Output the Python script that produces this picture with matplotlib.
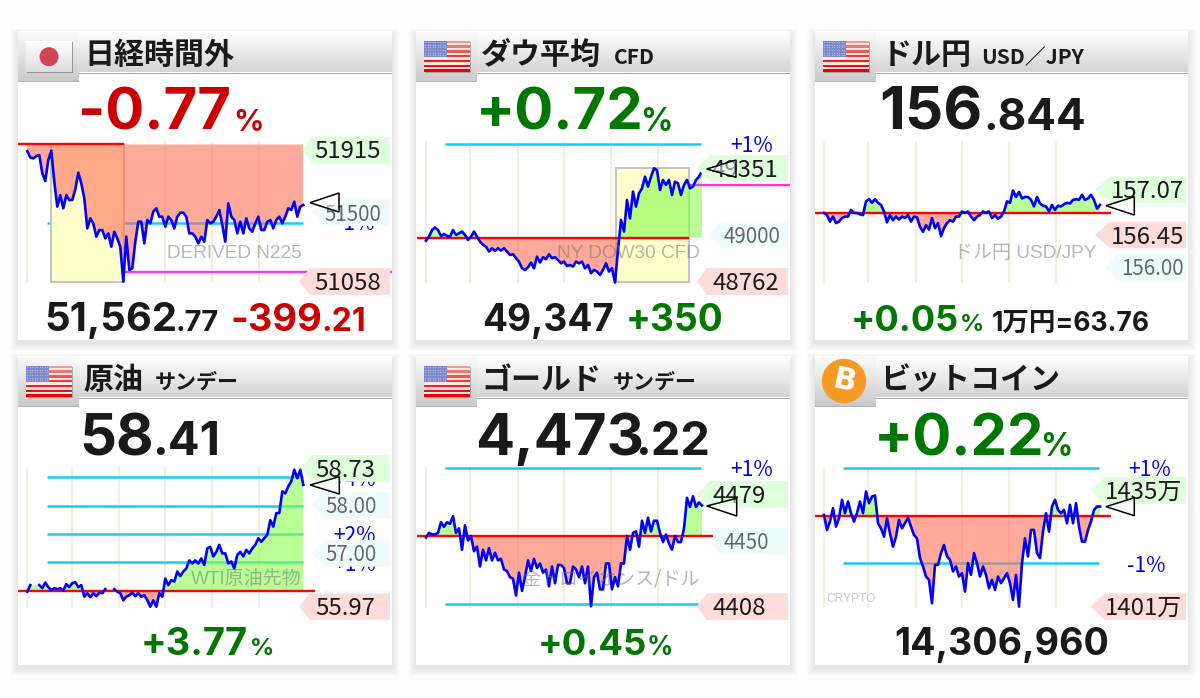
import numpy as np
import pandas as pd
import matplotlib
matplotlib.use("Agg")
import matplotlib.pyplot as plt
from matplotlib.patches import Rectangle, Polygon, Circle

W, H = 1200, 698
plt.rcParams['font.family'] = ['Noto Sans CJK JP', 'DejaVu Sans']

# ------------------ data (prices) ------------------
n225_values = [51918,51876,51870,51885,51892,51771,51721,51859,51920,51716,51552,51628,51541,51628,51596,51596,51666,51776,51705,51607,
               51409,51475,51442,51354,51398,51398,51343,51376,51288,51387,51343,51288,51058,51354,51135,51146,51321,51453,51453,51310,
               51464,51442,51519,51541,51486,51486,51420,51486,51464,51409,51486,51512,51512,51486,51376,51376,51354,51310,51354,51321,
               51464,51442,51453,51486,51530,51431,51321,51574,51486,51464,51376,51453,51376,51475,51409,51387,51442,51486,51398,51398,
               51453,51464,51409,51464,51486,51442,51486,51541,51530,51585,51486,51552,51563]
n225_base = 51962
n225_guides = [51442]

dow_values = [48981,49002,49037,49050,49037,49006,49016,49006,49002,49037,49011,49020,49029,49011,48985,49002,49029,49002,48976,48959,
              48950,48924,48941,48927,48941,48929,48941,48924,48906,48910,48889,48871,48836,48827,48841,48866,48836,48897,48866,48894,
              48883,48910,48889,48894,48880,48862,48871,48848,48853,48845,48871,48862,48871,48836,48853,48810,48827,48819,48801,48827,
              48862,48819,48836,48761,48932,49090,49029,49195,49098,49239,49160,49230,49256,49317,49265,49317,49361,49352,49247,49300,
              49274,49300,49221,49291,49282,49221,49274,49300,49256,49265,49300,49317,49349]
dow_base = 48997
dow_guides = [49487]

usd_values = [156.77,156.74,156.65,156.72,156.63,156.65,156.70,156.72,156.72,156.81,156.77,156.77,156.75,156.74,156.93,156.96,156.91,156.96,156.91,156.88,
              156.79,156.64,156.74,156.67,156.72,156.68,156.72,156.70,156.74,156.65,156.72,156.71,156.58,156.51,156.60,156.54,156.70,156.56,156.63,156.45,
              156.56,156.63,156.67,156.65,156.72,156.72,156.79,156.77,156.79,156.72,156.67,156.72,156.74,156.79,156.77,156.79,156.70,156.74,156.69,156.72,
              156.79,156.93,156.91,157.08,156.99,157.06,156.97,156.99,156.99,156.95,156.86,156.99,156.90,156.87,156.86,156.79,156.88,156.81,156.87,156.86,
              156.89,156.91,156.90,156.95,156.96,156.95,157.02,156.95,156.97,157.02,156.95,156.83,156.88]
usd_base = 156.77
usd_guides = []

nan = float('nan')
oil_values = [56.27,56.40,nan,nan,56.40,56.34,56.45,56.36,56.30,56.34,56.32,56.34,56.29,56.42,56.36,56.44,56.46,56.36,56.40,56.17,
              56.24,56.16,56.24,56.18,56.25,56.24,56.32,nan,nan,56.32,56.27,56.24,56.10,56.17,56.20,56.25,56.18,56.24,56.17,56.20,
              56.10,55.97,56.10,55.97,56.24,56.17,56.53,56.40,56.50,56.47,56.67,56.58,56.67,56.73,56.89,56.83,56.89,56.83,56.93,56.80,
              57.13,57.16,56.97,57.06,57.20,57.03,57.03,56.83,56.87,56.73,57.00,57.06,56.97,57.10,57.03,57.13,57.20,57.33,57.26,57.33,
              57.40,57.69,57.56,57.83,57.83,58.26,58.22,58.36,58.46,58.69,58.52,58.69,58.39]
oil_base = 56.29
oil_guides = [56.853,57.416,57.979,58.542]

gold_values = [4452,4455,4454,4454,4455,4462,4459,4462,4461,4466,4455,4458,4444,4460,4450,4453,4443,4446,4433,4444,
               4437,4445,4437,4442,4437,4438,4431,4430,4426,4425,4414,4429,4417,4426,4437,4430,4438,4432,4435,4429,
               4431,4420,4433,4422,4434,4434,4432,4422,4422,4433,4431,4426,4433,4422,4433,4407,4426,4429,4418,4418,
               4435,4435,4418,4426,4420,4435,4435,4453,4444,4455,4456,4446,4463,4455,4465,4456,4463,4463,4455,4449,
               4454,4448,4444,4453,4449,4449,4458,4478,4472,4479,4472,4475,4473]
gold_base = 4453
gold_guides = [4497.5, 4408.5]

btc_values = [1427.8,1423.3,1425.8,1429.8,1424.3,1426.8,1432.3,1428.3,1431.8,1428.3,1425.8,1428.3,1431.8,1428.3,1434.8,1431.3,1433.3,1433.6,1425.3,1423.8,
              1421.3,1426.8,1422.3,1418.3,1421.3,1426.3,1423.8,1425.3,1427.0,1424.3,1421.8,1420.8,1414.9,1412.4,1409.4,1408.4,1401.4,1412.9,1412.9,1416.4,
              1418.8,1415.4,1414.4,1410.9,1412.4,1409.4,1410.4,1404.9,1413.4,1409.9,1416.4,1413.4,1409.4,1412.4,1409.9,1405.9,1408.4,1405.4,1409.4,1407.4,
              1408.9,1410.4,1407.4,1402.4,1409.9,1400.4,1413.4,1420.8,1415.4,1423.3,1423.3,1416.4,1414.9,1422.8,1428.3,1422.8,1430.3,1432.3,1429.3,1428.3,
              1429.3,1425.3,1430.8,1425.3,1431.3,1424.3,1419.8,1419.8,1423.3,1425.8,1429.3,1430.3,1430.3]
btc_base = 1427.6
btc_guides = [1441.9, 1413.3]

session_marks = [0, 14.8, 30.5, 46, 61.6, 77.2]

RED, GRN, BLK = '#cc0000', '#007700', '#1a1a1a'

# ------------------ layout ------------------
CARD_X = [(18, 392), (416, 790), (815, 1188)]
CHART_X = [(27.3, 303.3), (426, 702), (824, 1100)]
ROW_DY = [0, 325]
NUM_FONT = ['Inter', 'Noto Sans CJK JP', 'DejaVu Sans']

fig = plt.figure(figsize=(W / 100, H / 100), dpi=100, facecolor='#fefefe')


def overlay(z):
    a = fig.add_axes([0, 0, 1, 1], zorder=z)
    a.set_xlim(0, W)
    a.set_ylim(H, 0)
    a.axis('off')
    a.set_autoscale_on(False)
    return a


bg = overlay(0)
fg = overlay(2)


def pt(px):
    return px * 0.72


def vgrad(a, x0, x1, y0, y1, c0, c1, z=1):
    c0 = np.array(matplotlib.colors.to_rgb(c0))
    c1 = np.array(matplotlib.colors.to_rgb(c1))
    t = np.linspace(0, 1, 64)[:, None, None]
    img = c0[None, None, :] * (1 - t) + c1[None, None, :] * t
    a.imshow(img, extent=(x0, x1, y1, y0), aspect='auto', zorder=z, interpolation='bilinear')
    a.set_xlim(0, W)
    a.set_ylim(H, 0)


def card(col, row):
    x0, x1 = CARD_X[col]
    dy = ROW_DY[row]
    y0, y1 = 32 + dy, 340 + dy
    for i in range(8, 0, -1):
        bg.add_patch(Rectangle((x0 - i, y0 - i * 0.8 + 3), x1 - x0 + 2 * i, y1 - y0 + 1.8 * i,
                               fc='black', ec='none', alpha=0.010, zorder=0.5))
    bg.add_patch(Rectangle((x0, y0), x1 - x0, y1 - y0, fc='white', ec='none', zorder=0.8))
    vgrad(bg, x0, x1, y0, 72.5 + dy, '#ffffff', '#d4d4d4')
    bg.add_patch(Rectangle((x0, 72.5 + dy), x1 - x0, 1.3, fc='#a8a8a8', ec='none', zorder=1.5))
    vgrad(bg, x0, x0 + 61, y0, 82 + dy, '#fafafa', '#c8c8c8', z=1.6)
    bg.add_patch(Rectangle((x0, 81 + dy), 61, 1.2, fc='#b5b5b5', ec='none', zorder=1.7))


def us_flag(col, row):
    x0 = CARD_X[col][0] + 7.5
    y0 = 40.7 + ROW_DY[row]
    w, h = 46, 31
    bg.add_patch(Rectangle((x0 + 1, y0 + 1.5), w, h, fc='#777777', ec='none', alpha=0.5, zorder=2))
    for i in range(13):
        f = i / 12
        if i % 2 == 0:
            c = (0.93 + 0.02 * f, 0.62 * (1 - f) ** 1.5, 0.58 * (1 - f) ** 1.5)
        else:
            c = (1, 0.90, 0.88)
        bg.add_patch(Rectangle((x0, y0 + i * h / 13), w, h / 13 + 0.1, fc=c, ec='none', zorder=2.1))
    bg.add_patch(Rectangle((x0, y0), 23, 16, fc='#7c88cc', ec='none', zorder=2.2))
    gx, gy = np.meshgrid(np.linspace(x0 + 1.5, x0 + 21.5, 9), np.linspace(y0 + 1.5, y0 + 14.5, 6))
    bg.scatter(gx.ravel(), gy.ravel(), s=1.0, c='#aeb5e4', linewidths=0, zorder=2.3)


def jp_flag(col, row):
    x0 = CARD_X[col][0] + 8
    y0 = 40.7 + ROW_DY[row]
    bg.add_patch(Rectangle((x0 + 0.5, y0 + 1.5), 46, 31, fc='#666666', ec='none', alpha=0.6, zorder=2))
    vgrad(bg, x0, x0 + 46, y0, y0 + 31, '#ffffff', '#dcdcdc', z=2.1)
    bg.add_patch(Circle((x0 + 23, y0 + 16), 9.5, fc='#cf4458', ec='none', zorder=2.3))


def btc_icon(col, row):
    bg.add_patch(Circle((844, 381), 21.5, fc='#f59a23', ec='#f0a030', zorder=2.3))
    bg.text(844, 381.5, 'B', color='white', fontsize=pt(30), fontweight='bold', ha='center', va='center',
            rotation=-12, family='DejaVu Sans', zorder=2.4)


def chart(col, row, values, base, ytop, ybot, guides, guide_px, red_px, yellow=None, magenta=None):
    x0, x1 = CHART_X[col]
    dy = ROW_DY[row]
    y0, y1 = 141.7 + dy, 283.3 + dy
    ax = fig.add_axes([x0 / W, 1 - y1 / H, (x1 - x0) / W, (y1 - y0) / H], zorder=1)
    ax.patch.set_visible(False)
    for s in ax.spines.values():
        s.set_visible(False)
    ax.set_xticks([])
    ax.set_yticks([])
    n = len(values)
    ax.set_xlim(0, n - 1)
    ax.set_ylim(ybot, ytop)
    idx = lambda px: (px - x0) * (n - 1) / (x1 - x0)
    xs = np.arange(n)
    vals = np.array(values, dtype=float)
    filled = pd.Series(vals).interpolate().values
    ax.vlines(session_marks, ybot, ytop, color='#f2eee2', lw=1.6, zorder=2, clip_on=False)
    for g in guides:
        ax.plot([idx(guide_px[0]), idx(guide_px[1])], [g, g], color='#14ccff', lw=1.8, zorder=3, clip_on=False,
                solid_capstyle='butt')
    if yellow:
        ax.add_patch(Rectangle((idx(yellow[0]), yellow[3]), idx(yellow[1]) - idx(yellow[0]), yellow[2] - yellow[3],
                               fc='#ffffcc', ec='#c4c4c4', lw=1.4, zorder=3.5))
    ax.fill_between(xs, filled, base, where=filled >= base, interpolate=True, fc=(138 / 255, 1, 80 / 255), alpha=0.6,
                    lw=0, zorder=4)
    ax.fill_between(xs, filled, base, where=filled <= base, interpolate=True, fc=(1, 113 / 255, 88 / 255), alpha=0.6,
                    lw=0, zorder=4)
    ax.plot(xs, vals, color='#0000ff', lw=1.9, zorder=6, clip_on=False, solid_joinstyle='round')
    ax.plot([idx(red_px[0]), idx(red_px[1])], [base, base], color='#ff0000', lw=1.7, zorder=5, clip_on=False,
            solid_capstyle='butt')
    if magenta:
        ax.plot([idx(magenta[1]), idx(magenta[2])], [magenta[0], magenta[0]], color='#ff33ee', lw=1.7, zorder=5,
                clip_on=False, solid_capstyle='butt')
    return ax


def tag(kind, tip, left, right, y0, y1, label=None, tx=None):
    fc = {'g': '#dfffdc', 'r': '#ffdcd9', 'c': '#edfcfd'}[kind]
    fg.add_patch(Polygon([(tip, (y0 + y1) / 2), (left, y0), (right, y0), (right, y1), (left, y1)],
                         closed=True, fc=fc, ec='none', zorder=2))
    if label:
        fg.text(tx, (y0 + y1) / 2 - 0.5, label, fontsize=pt(20.5 if kind == 'c' else 24), ha='right',
                va='center_baseline', color='#666666' if kind == 'c' else '#1a1a1a', zorder=3)


def pct(cx, cy, s):
    fg.text(cx, cy, s, fontsize=pt(21), color='#0000ee', ha='center', va='center_baseline', zorder=1)


def tri(tip_x, tip_y, bx, by0, by1):
    fg.add_patch(Polygon([(tip_x, tip_y), (bx, by0), (bx, by1)], closed=True, fc=(1, 1, 1, 0.5), ec='black', lw=1.1,
                         zorder=5))


def mark(s, right, cy, size=19, family='Liberation Sans'):
    fg.text(right, cy, s, fontsize=pt(size), color='#707070', alpha=0.5, ha='right',
            va='center_baseline', family=[family, 'Noto Sans CJK JP'], zorder=4)


def txt(x, y, s, size, color=BLK, weight='bold', family=None):
    fg.text(x, y, s, fontsize=pt(size), color=color, fontweight=weight, ha='left', va='baseline', zorder=6,
            family=family or plt.rcParams['font.family'])


def num(x, y, s, size, color=BLK):
    txt(x, y, s, size, color, family=NUM_FONT)


# ------------------ cards ------------------
for r in range(2):
    for c in range(3):
        card(c, r)
jp_flag(0, 0)
us_flag(1, 0)
us_flag(2, 0)
us_flag(0, 1)
us_flag(1, 1)
btc_icon(2, 1)

# ------------------ charts ------------------
chart(0, 0, n225_values, n225_base, 51980, 51047, n225_guides, (46.7, 303), (18, 124),
      yellow=(50.7, 124, 51962, 51058), magenta=(51120, 124, 392))
chart(1, 0, dow_values, dow_base, 49501, 48757, dow_guides, (445, 701), (416.5, 688.5),
      yellow=(616, 688.5, 49364, 48766), magenta=(49273, 688.5, 790))
chart(2, 0, usd_values, usd_base, 157.752, 155.80, usd_guides, (843, 1099), (815, 1110.7))
chart(0, 1, oil_values, oil_base, 58.75, 55.94, oil_guides, (46.7, 303), (18, 315))
chart(1, 1, gold_values, gold_base, 4498.4, 4405.6, gold_guides, (445, 701), (416.5, 713))
chart(2, 1, btc_values, btc_base, 1442.2, 1399.9, btc_guides, (843, 1099), (815, 1110.7))

# ------------------ right-hand tags, guide labels, pointers ------------------
pct(355, 222, '-1%')
tag('g', 302, 312, 390, 136.7, 163.3, '51915', 381)
tag('c', 312, 325, 390, 199.3, 226, '51500', 381)
tag('r', 299, 310, 390, 268, 295, '51058', 381)
tri(310, 202.7, 339, 193, 212)
mark('DERIVED N225', 302, 251.7)

pct(752, 144, '+1%')
tag('g', 696.7, 710, 788, 155, 181.7, '49351', 778)
tag('c', 710, 720, 788, 221.7, 247.7, '49000', 780)
tag('r', 696.7, 707, 788, 268, 295, '48762', 779)
tri(706.7, 169, 736, 160, 177.3)
mark('NY DOW30 CFD', 700, 251.7)

tag('c', 1106, 1116, 1186, 181.7, 208)
tag('g', 1095, 1110, 1186, 176.7, 203, '157.07', 1184)
tag('r', 1095, 1110, 1186, 221.7, 248.3, '156.45', 1184)
tag('c', 1106.7, 1116.7, 1186, 254, 280.7, '156.00', 1184)
tri(1106, 205.7, 1134.3, 196.7, 215)
mark('ドル円 USD/JPY', 1097, 252)

pct(355, 477, '+4%')
pct(354, 533, '+2%')
pct(355, 562.7, '+1%')
tag('g', 301.7, 312, 390, 455, 481.7, '58.73', 375)
tag('c', 311.7, 325, 390, 491.7, 518.3, '58.00', 377)
tag('c', 311.7, 325, 390, 540, 566.7, '57.00', 377)
tag('c', 311.7, 325, 390, 590.7, 617)
tag('r', 299, 310, 390, 593.3, 620, '55.97', 375)
tri(310, 485, 339.3, 476.7, 494)
mark('WTI原油先物', 302, 576.7)

pct(752, 468, '+1%')
tag('g', 696.7, 710, 788, 481, 507.7, '4479', 766)
tag('c', 710, 720, 788, 527.7, 554, '4450', 769)
tag('r', 696.7, 707, 788, 593.3, 620, '4408', 766)
tri(706.7, 506, 736.7, 498.3, 516)
mark('金トロイオンス/ドル', 700, 576.7, family='Noto Sans CJK JP')

pct(1150, 468, '+1%')
pct(1146, 564, '-1%')
tag('g', 1090.7, 1105, 1186, 476.7, 504, '1435万', 1182)
tag('r', 1090.7, 1105, 1186, 593.3, 620, '1401万', 1182)
tri(1106, 506.7, 1134.3, 497.7, 515.7)
fg.text(826, 598, 'CRYPTO', fontsize=pt(12), color='#cccccc', ha='left', va='center_baseline',
        family=['Liberation Sans'], zorder=4)

# ------------------ titles ------------------
txt(84, 64, '日経時間外', 30)
txt(481, 64, 'ダウ平均', 30)
txt(614, 64, 'CFD', 21)
txt(882, 64, 'ドル円', 30)
txt(981, 64, 'USD／JPY', 21)
txt(83, 389, '原油', 30)
txt(155, 389, 'サンデー', 21)
txt(481, 389, 'ゴールド', 30)
txt(613, 389, 'サンデー', 21)
txt(880, 389, 'ビットコイン', 30)

# ------------------ headline numbers ------------------
BIG, MID = 58, 38
num(78, 130, '-0.77', BIG, RED)
num(233, 131, '%', 30, RED)
num(476, 130, '+0.72', BIG, GRN)
num(640, 131, '%', 32, GRN)
num(879, 130, '156', 60)
num(983, 130, '.844', 44)
num(79, 455, '58', BIG)
num(152, 455, '.41', 47)
num(475, 455, '4,473', BIG)
num(635, 455, '.22', 47)
num(874, 455, '+0.22', BIG, GRN)
num(1040, 456, '%', 32, GRN)

num(44, 331, '51,562', 40)
num(176, 331, '.77', 29)
num(230, 331, '-399', MID, RED)
num(321, 331, '.21', 32, RED)
num(482, 331, '49,347', 37)
num(626, 331, '+350', 37, GRN)
num(851, 331, '+0.05', 36, GRN)
num(960, 331, '%', 24, GRN)
num(992, 331, '1万円=63.76', 26.5)
num(141, 655, '+3.77', MID, GRN)
num(250, 655, '%', 24, GRN)
num(538, 655, '+0.45', 36.5, GRN)
num(647, 655, '%', 26, GRN)
num(894, 655, '14,306,960', 37.5)

fig.savefig('out.png', dpi=100, facecolor=fig.get_facecolor())
